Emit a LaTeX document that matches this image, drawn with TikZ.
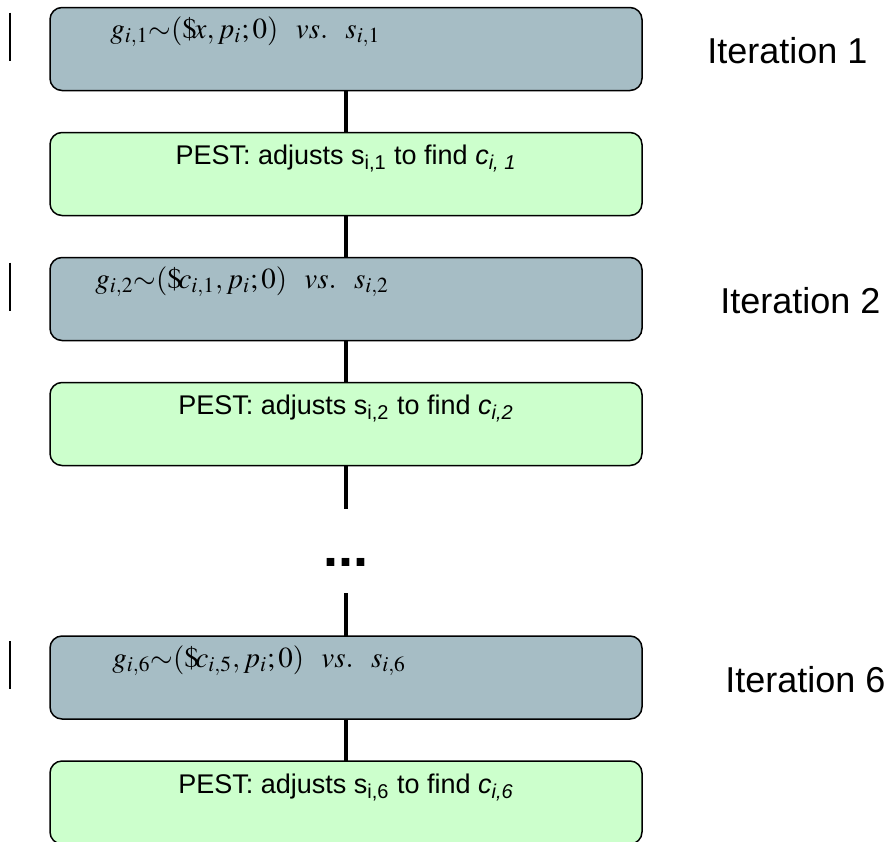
\documentclass[tikz,border=0pt]{standalone}
\usepackage{mathptmx}
\usepackage[no-math]{fontspec}
\setmainfont{Liberation Sans}
\usetikzlibrary{positioning,calc}

\definecolor{stepgray}{HTML}{A6BDC5}
\definecolor{pestgreen}{HTML}{CCFFCC}

\newcommand{\vsgap}{\hspace{0.6em}}

\tikzset{
  gbox/.style={draw, line width=0.75pt, rounded corners=6pt, fill=stepgray,
    minimum width=296pt, minimum height=41.5pt, outer sep=0pt},
  pbox/.style={gbox, fill=pestgreen},
  link/.style={line width=2.1pt},
  sidebar/.style={line width=1pt},
  formula/.style={font=\fontsize{14.5}{16}\selectfont, inner sep=0pt, anchor=base west},
  pest/.style={font=\fontsize{13.5}{15}\selectfont, inner sep=0pt, anchor=base},
  iter/.style={font=\fontsize{18}{20}\selectfont, inner sep=0pt, anchor=west}
}

\begin{document}
\begin{tikzpicture}[x=0.5pt, y=-0.5pt]
  \clip (0,0) rectangle (889,841);

  % boxes
  \node[gbox] (g1) at (346,49) {};
  \node[pbox, below=21pt of g1] (p1) {};
  \node[gbox, below=21pt of p1] (g2) {};
  \node[pbox, below=21pt of g2] (p2) {};
  \node[gbox, below=85.25pt of p2] (g6) {};
  \node[pbox, below=21pt of g6] (p6) {};

  % box texts
  \node[formula] (f1) at ($(g1.north west)+(60,31)$)
    {$g_{i,1}{\sim}(\$\!x, p_i; 0)\vsgap \mathit{vs.}\vsgap s_{i,1}$};
  \node[formula] (f2) at ($(g2.north west)+(45,31)$)
    {$g_{i,2}{\sim}(\$\!c_{i,1}, p_i; 0)\vsgap \mathit{vs.}\vsgap s_{i,2}$};
  \node[formula] (f6) at ($(g6.north west)+(62,31)$)
    {$g_{i,6}{\sim}(\$\!c_{i,5}, p_i; 0)\vsgap \mathit{vs.}\vsgap s_{i,6}$};
  \node[pest] (t1) at ($(p1.north)+(0,32)$)
    {PEST: adjusts s\textsubscript{i,1} to find \textit{c\textsubscript{i, 1}}};
  \node[pest] (t2) at ($(p2.north)+(0,32)$)
    {PEST: adjusts s\textsubscript{i,2} to find \textit{c\textsubscript{i,2}}};
  \node[pest] (t6) at ($(p6.north)+(0,32)$)
    {PEST: adjusts s\textsubscript{i,6} to find \textit{c\textsubscript{i,6}}};

  % iteration labels
  \node[iter] (i1) at ($(g1.east)+(65,2)$) {Iteration 1};
  \node[iter] (i2) at ($(g2.east)+(78,2)$) {Iteration 2};
  \node[iter] (i6) at ($(g6.east)+(83,2)$) {Iteration 6};

  % connectors
  \coordinate (d1) at (346,509);
  \coordinate (d2) at (346,593);
  \node[inner sep=0pt, anchor=base, font=\fontsize{27}{30}\selectfont\bfseries] (dots) at (346,566) {...};
  \draw[link] (g1) -- (p1);
  \draw[link] (p1) -- (g2);
  \draw[link] (g2) -- (p2);
  \draw[link] (p2.south) -- (d1);
  \draw[link] (d2) -- (g6.north);
  \draw[link] (g6) -- (p6);

  % side marks
  \foreach \b in {g1,g2,g6}
    \draw[sidebar] ($(\b.north west)+(-40,5)$) -- ++(0,48);
\end{tikzpicture}
\end{document}
